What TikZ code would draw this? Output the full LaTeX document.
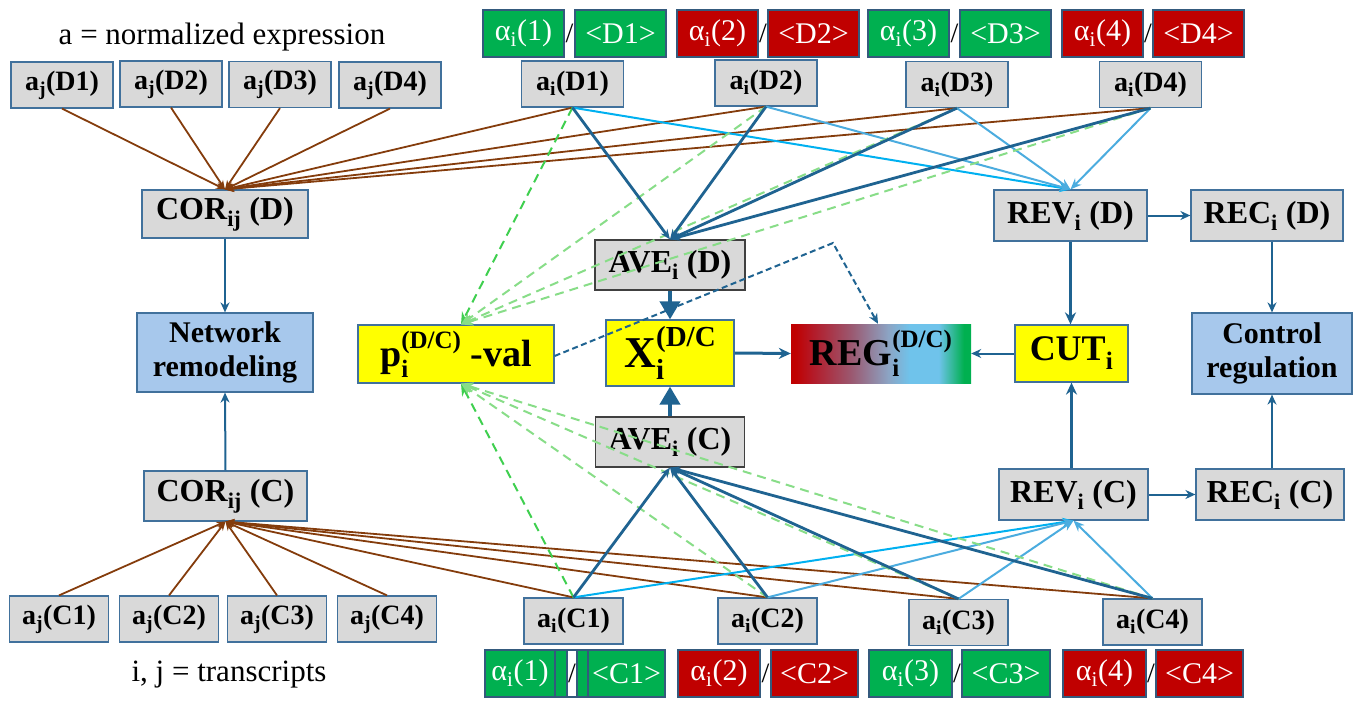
\documentclass[tikz,border=0pt]{standalone}
\usepackage{fontspec}
\setmainfont{Liberation Serif}
\usetikzlibrary{arrows.meta}
\definecolor{grayc}{HTML}{D9D9D9}
\definecolor{bordc}{HTML}{41719C}
\definecolor{greenc}{HTML}{00B050}
\definecolor{redc}{HTML}{C00000}
\definecolor{yellowc}{HTML}{FFFF00}
\definecolor{bluefill}{HTML}{A7C8EC}
\definecolor{brownc}{HTML}{843C0C}
\definecolor{dbluec}{HTML}{1F6391}
\definecolor{lblueA}{HTML}{00B0F0}
\definecolor{lblueB}{HTML}{4BACDF}
\definecolor{dgreenA}{HTML}{3FCF4F}
\definecolor{dgreenB}{HTML}{88DD88}
\definecolor{sRed}{HTML}{C00000}
\definecolor{sRedB}{HTML}{B41A28}
\definecolor{sMauve}{HTML}{9A5A72}
\definecolor{sGrayBlue}{HTML}{8CA4C4}
\definecolor{sLB}{HTML}{6FC3EB}
\definecolor{sGreen}{HTML}{00B050}
\pgfdeclarehorizontalshading{regshade}{100bp}{color(0bp)=(sRed); color(26bp)=(sRed); color(31bp)=(sRedB); color(42bp)=(sMauve); color(52bp)=(sGrayBlue); color(58bp)=(sLB); color(66bp)=(sLB); color(73bp)=(sGreen); color(100bp)=(sGreen)}
% #1 small size (pt), #2 subscript, #3 superscript
\newcommand\ssup[3]{\rlap{\raisebox{-0.28em}{\fontsize{#1}{#1}\selectfont #2}}\raisebox{0.48em}{\fontsize{#1}{#1}\selectfont #3}}
\begin{document}
\begin{tikzpicture}[x=1pt,y=-1pt,
  box/.style={draw=bordc, line width=1.2pt, inner sep=0pt, align=center},
  gb/.style={box, fill=grayc},
  sm/.style={gb, minimum width=102pt, minimum height=46pt, font=\bfseries\fontsize{28}{30}\selectfont},
  smc/.style={sm, minimum width=99pt},
  md/.style={gb, minimum height=51pt, font=\bfseries\fontsize{32}{36}\selectfont},
  avebox/.style={md, draw=black!75, minimum height=50pt},
  col/.style={box, draw=bordc!80!black, minimum height=47pt, text=white, font=\fontsize{30}{32}\selectfont},
  grn/.style={col, fill=greenc},
  rd/.style={col, fill=redc},
  slash/.style={inner sep=0pt, font=\fontsize{28}{32}\selectfont},
  yb/.style={box, fill=yellowc},
  bb/.style={box, fill=bluefill, font=\bfseries\fontsize{30}{34}\selectfont},
  lbl/.style={inner sep=0pt, font=\fontsize{31}{34}\selectfont},
  brw/.style={draw=brownc, line width=1.8pt, -{Stealth[length=9pt,width=7pt]}},
  dbl/.style={draw=dbluec, line width=2.8pt, -{Stealth[length=10pt,width=8pt]}},
  lbA/.style={draw=lblueA, line width=2pt, -{Stealth[length=11pt,width=9pt]}},
  lbB/.style={draw=lblueB, line width=2pt, -{Stealth[length=11pt,width=9pt]}},
  dgA/.style={draw=dgreenA, line width=2pt, dash pattern=on 9pt off 6pt, -{Stealth[length=12pt,width=10pt]}},
  dgB/.style={draw=dgreenB, line width=2pt, dash pattern=on 9pt off 6pt, -{Stealth[length=12pt,width=10pt]}},
  flow/.style={draw=dbluec, line width=2pt, -{Stealth[length=10pt,width=9pt]}},
  flowb/.style={draw=dbluec, line width=3pt, -{Stealth[length=12pt,width=11pt]}},
  bigflow/.style={draw=dbluec, line width=4pt, -{Triangle[length=18pt,width=20pt]}},
  pdash/.style={draw=dbluec, line width=2pt, dash pattern=on 6pt off 3.5pt, -{Stealth[length=10pt,width=9pt]}}
]
\useasboundingbox (0,0) rectangle (1361,706);

% labels
\node[lbl] (lblA) at (222,37) {a = normalized expression};
\node[lbl] (lblB) at (229,675) {i, j = transcripts};

% left column
\node[sm] (ajD1) at (62,85) {a\textsubscript{j}(D1)};
\node[sm] (ajD2) at (171,84) {a\textsubscript{j}(D2)};
\node[sm] (ajD3) at (280,84.5) {a\textsubscript{j}(D3)};
\node[sm] (ajD4) at (390,85) {a\textsubscript{j}(D4)};
\node[md, minimum width=166pt, minimum height=48pt] (corD) at (225,214) {COR\textsubscript{ij} (D)};
\node[bb, minimum width=176pt, minimum height=79pt] (net) at (225,352.5) {Network\\remodeling};
\node[md, minimum width=163pt, minimum height=50pt] (corC) at (225.5,496) {COR\textsubscript{ij} (C)};
\node[smc] (ajC1) at (59,619) {a\textsubscript{j}(C1)};
\node[smc] (ajC2) at (169,619) {a\textsubscript{j}(C2)};
\node[smc] (ajC3) at (277,619) {a\textsubscript{j}(C3)};
\node[smc] (ajC4) at (387,619) {a\textsubscript{j}(C4)};

% top coloured boxes
\node[grn, minimum width=81pt] (alD1) at (523.5,33.5) {α\textsubscript{i}(1)};
\node[slash] (slD1) at (569.5,33.5) {/};
\node[grn, minimum width=91pt] (avD1) at (620.5,33.5) {<D1>};
\node[rd, minimum width=81pt] (alD2) at (717.5,33.5) {α\textsubscript{i}(2)};
\node[slash] (slD2) at (763,33.5) {/};
\node[rd, minimum width=91pt] (avD2) at (813.5,33.5) {<D2>};
\node[grn, minimum width=81pt] (alD3) at (908.5,33.5) {α\textsubscript{i}(3)};
\node[slash] (slD3) at (954.5,33.5) {/};
\node[grn, minimum width=91pt] (avD3) at (1005.5,33.5) {<D3>};
\node[rd, minimum width=81pt] (alD4) at (1102.5,33.5) {α\textsubscript{i}(4)};
\node[slash] (slD4) at (1148,33.5) {/};
\node[rd, minimum width=91pt] (avD4) at (1198.5,33.5) {<D4>};

% a_i(D)
\node[sm] (aiD1) at (572.5,84) {a\textsubscript{i}(D1)};
\node[sm] (aiD2) at (766,83) {a\textsubscript{i}(D2)};
\node[sm] (aiD3) at (957,84.5) {a\textsubscript{i}(D3)};
\node[sm] (aiD4) at (1150.5,84.5) {a\textsubscript{i}(D4)};

% centre
\node[avebox, minimum width=150pt] (aveD) at (670,265) {AVE\textsubscript{i} (D)};
\node[avebox, minimum width=149pt] (aveC) at (670,442) {AVE\textsubscript{i} (C)};
\node[yb, minimum width=196pt, minimum height=58pt, font=\bfseries\fontsize{38}{40}\selectfont] (pval) at (456,354) {p\ssup{25}{i}{(D/C)} -val};
\node[yb, minimum width=128pt, minimum height=66pt, font=\bfseries\fontsize{44}{46}\selectfont] (X) at (670,353) {X\ssup{29}{i}{(D/C}};
\node[inner sep=0pt, shading=regshade, minimum width=180pt, minimum height=59pt, font=\bfseries\fontsize{38}{40}\selectfont] (reg) at (881,353.5) {REG\ssup{25}{i}{(D/C)}};
\node[yb, minimum width=113pt, minimum height=57pt, font=\bfseries\fontsize{36}{38}\selectfont] (cut) at (1071.5,353.5) {CUT\textsubscript{i}};

% right
\node[md, minimum width=153pt] (revD) at (1070.5,215.5) {REV\textsubscript{i} (D)};
\node[md, minimum width=152pt] (recD) at (1267,215.5) {REC\textsubscript{i} (D)};
\node[bb, minimum width=160pt, minimum height=81pt] (ctrl) at (1272,353.5) {Control\\regulation};
\node[md, minimum width=149pt] (revC) at (1073.5,494.5) {REV\textsubscript{i} (C)};
\node[md, minimum width=148pt] (recC) at (1270,494.5) {REC\textsubscript{i} (C)};

% a_i(C)
\node[smc] (aiC1) at (573.5,621) {a\textsubscript{i}(C1)};
\node[smc] (aiC2) at (767.5,621) {a\textsubscript{i}(C2)};
\node[smc] (aiC3) at (958.5,622.5) {a\textsubscript{i}(C3)};
\node[smc] (aiC4) at (1152.5,622) {a\textsubscript{i}(C4)};

% bottom coloured boxes
\node[grn, minimum width=70pt] (alC1) at (520,673.5) {α\textsubscript{i}(1)};
\node[box, draw=bordc!80!black, fill=greenc, minimum width=33pt, minimum height=47pt] (strip) at (571.5,673.5) {};
\node[box, draw=bordc!80!black, fill=white, minimum width=10pt, minimum height=47pt] (stripw) at (572,673.5) {};
\node[slash] (slC1) at (572,673.5) {/};
\node[grn, minimum width=77pt] (avC1) at (626.5,673.5) {<C1>};
\node[rd, minimum width=82pt] (alC2) at (719,673.5) {α\textsubscript{i}(2)};
\node[slash] (slC2) at (765.5,673.5) {/};
\node[rd, minimum width=87pt] (avC2) at (814.5,673.5) {<C2>};
\node[grn, minimum width=83pt] (alC3) at (910.5,673.5) {α\textsubscript{i}(3)};
\node[slash] (slC3) at (957,673.5) {/};
\node[grn, minimum width=88pt] (avC3) at (1006,673.5) {<C3>};
\node[rd, minimum width=83pt] (alC4) at (1104.5,673.5) {α\textsubscript{i}(4)};
\node[slash] (slC4) at (1151,673.5) {/};
\node[rd, minimum width=87pt] (avC4) at (1199.5,673.5) {<C4>};

% ---- connectors: D side
\draw[brw] (ajD1.south) -- (corD.north);
\draw[brw] (ajD2.south) -- (corD.north);
\draw[brw] (ajD3.south) -- (corD.north);
\draw[brw] (ajD4.south) -- (corD.north);
\draw[brw] (aiD1.south) -- (corD.north);
\draw[brw] (aiD2.south) -- (corD.north);
\draw[brw] (aiD3.south) -- (corD.north);
\draw[brw] (aiD4.south) -- (corD.north);
\draw[lbA] (aiD1.south) -- (revD.north);
\draw[lbB] (aiD2.south) -- (revD.north);
\draw[lbB] (aiD3.south) -- (revD.north);
\draw[lbB] (aiD4.south) -- (revD.north);
\draw[dgA] (aiD1.south) -- ([xshift=5pt]pval.north);
\draw[dgB] (aiD2.south) -- ([xshift=5pt]pval.north);
\draw[dgB] (aiD3.south) -- ([xshift=5pt]pval.north);
\draw[dgB] (aiD4.south) -- ([xshift=5pt]pval.north);
\draw[dbl] (aiD1.south) -- (aveD.north);
\draw[dbl] (aiD2.south) -- (aveD.north);
\draw[dbl] (aiD3.south) -- (aveD.north);
\draw[dbl] (aiD4.south) -- (aveD.north);

% ---- connectors: C side
\draw[brw] (ajC1.north) -- (corC.south);
\draw[brw] (ajC2.north) -- (corC.south);
\draw[brw] (ajC3.north) -- (corC.south);
\draw[brw] (ajC4.north) -- (corC.south);
\draw[brw] (aiC1.north) -- (corC.south);
\draw[brw] (aiC2.north) -- (corC.south);
\draw[brw] (aiC3.north) -- (corC.south);
\draw[brw] (aiC4.north) -- (corC.south);
\draw[lbA] (aiC1.north) -- (revC.south);
\draw[lbB] (aiC2.north) -- (revC.south);
\draw[lbB] (aiC3.north) -- (revC.south);
\draw[lbB] (aiC4.north) -- (revC.south);
\draw[dgA] (aiC1.north) -- ([xshift=5pt]pval.south);
\draw[dgB] (aiC2.north) -- ([xshift=5pt]pval.south);
\draw[dgB] (aiC3.north) -- ([xshift=5pt]pval.south);
\draw[dgB] (aiC4.north) -- ([xshift=5pt]pval.south);
\draw[dbl] (aiC1.north) -- (aveC.south);
\draw[dbl] (aiC2.north) -- (aveC.south);
\draw[dbl] (aiC3.north) -- (aveC.south);
\draw[dbl] (aiC4.north) -- (aveC.south);

% ---- flow arrows
\draw[flow] (corD.south) -- (net.north);
\draw[flow] (corC.north) -- (net.south);
\draw[bigflow] (aveD.south) -- (X.north);
\draw[bigflow] (aveC.north) -- (X.south);
\draw[flowb] (X.east) -- (reg.west);
\draw[flow] (cut.west) -- (reg.east);
\draw[flowb] (revD.south) -- (revD.south |- cut.north);
\draw[flowb] (revC.north -| cut.south) -- (cut.south);
\draw[flow] (revD.east) -- (recD.west);
\draw[flow] (revC.east) -- (recC.west);
\draw[flow] (ctrl.north |- recD.south) -- (ctrl.north);
\draw[flow] (ctrl.south |- recC.north) -- (ctrl.south);
\coordinate (bend) at (833,243);
\draw[pdash] ([yshift=-2pt]pval.east) -- (bend) -- ([xshift=-3pt]reg.north);
\end{tikzpicture}
\end{document}
